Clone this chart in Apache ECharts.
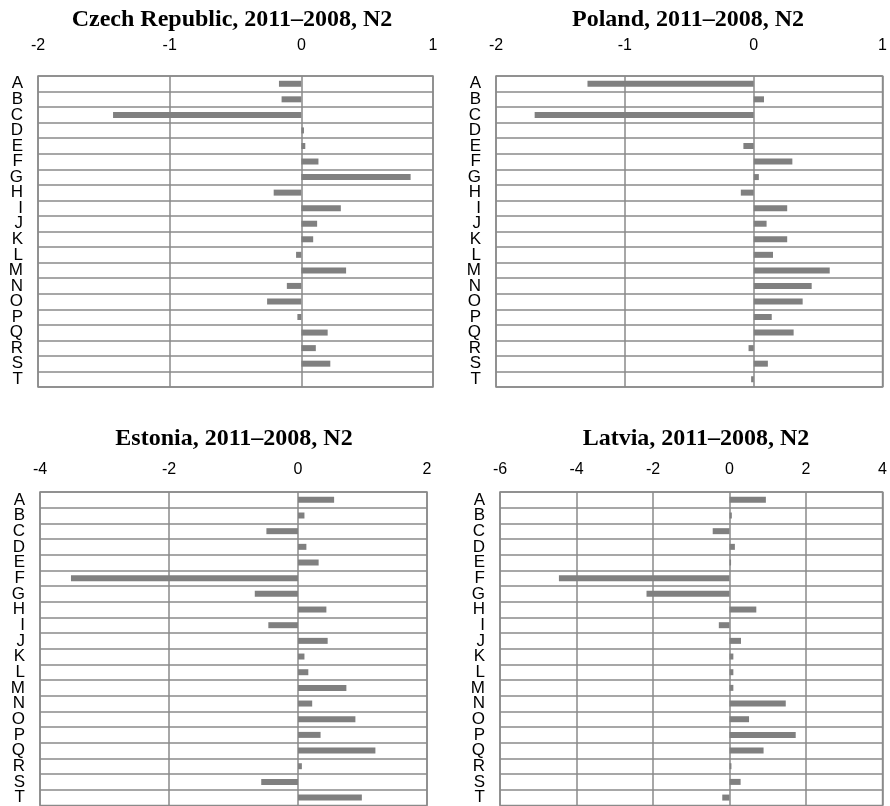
<!DOCTYPE html>
<html>
<head>
<meta charset="utf-8">
<script src="https://cdn.jsdelivr.net/npm/echarts@6/dist/echarts.min.js"></script>
<style>
  html, body { margin: 0; padding: 0; background: #fff; }
  #chart { width: 890px; height: 806px; }
</style>
</head>
<body>
<div id="chart"></div>
<script>
// sectors A..T
var categories = ['A','B','C','D','E','F','G','H','I','J','K','L','M','N','O','P','Q','R','S','T'];

var czech   = [-0.17, -0.15, -1.43, 0.02, 0.03, 0.13, 0.83, -0.21, 0.30, 0.12, 0.09, -0.04, 0.34, -0.11, -0.26, -0.03, 0.20, 0.11, 0.22, 0];
var poland  = [-1.29, 0.08, -1.70, 0, -0.08, 0.30, 0.04, -0.10, 0.26, 0.10, 0.26, 0.15, 0.59, 0.45, 0.38, 0.14, 0.31, -0.04, 0.11, -0.02];
var estonia = [0.56, 0.10, -0.49, 0.13, 0.32, -3.52, -0.67, 0.44, -0.46, 0.46, 0.10, 0.16, 0.75, 0.22, 0.89, 0.35, 1.20, 0.06, -0.57, 0.99];
var latvia  = [0.95, 0.06, -0.44, 0.14, 0.04, -4.46, -2.17, 0.70, -0.28, 0.30, 0.10, 0.10, 0.10, 1.47, 0.51, 1.73, 0.89, 0.05, 0.29, -0.19];

var panels = [
  { title: 'Czech Republic, 2011\u20132008, N2', data: czech,   min: -2, max: 1, step: 1, left: 38,  width: 395, top: 76,  height: 311, tx: 227, ty: 3,   lm: 22 },
  { title: 'Poland, 2011\u20132008, N2',         data: poland,  min: -2, max: 1, step: 1, left: 496, width: 388, top: 76,  height: 311, tx: 683, ty: 3,   lm: 22 },
  { title: 'Estonia, 2011\u20132008, N2',        data: estonia, min: -4, max: 2, step: 2, left: 40,  width: 387, top: 492, height: 316, tx: 229, ty: 422, lm: 14 },
  { title: 'Latvia, 2011\u20132008, N2',         data: latvia,  min: -6, max: 4, step: 2, left: 500, width: 384, top: 492, height: 316, tx: 691, ty: 422, lm: 14 }
];

var lineColor = '#8a8a8a';
var option = { animation: false, title: [], grid: [], xAxis: [], yAxis: [], series: [] };

panels.forEach(function (p, i) {
  option.title.push({
    text: p.title,
    left: p.tx,
    top: p.ty,
    textAlign: 'center',
    textStyle: { fontFamily: 'Liberation Serif', fontWeight: 'bold', fontSize: 24, color: '#000' }
  });
  option.grid.push({
    left: p.left, top: p.top, width: p.width, height: p.height,
    show: true, borderColor: lineColor, borderWidth: 1.5, backgroundColor: 'transparent'
  });
  option.xAxis.push({
    type: 'value', gridIndex: i, position: 'top',
    min: p.min, max: p.max, interval: p.step,
    axisLine: { show: false }, axisTick: { show: false },
    axisLabel: { margin: p.lm, fontFamily: 'Liberation Sans', fontSize: 16, color: '#000' },
    splitLine: { show: true, lineStyle: { color: lineColor, width: 1.5 } }
  });
  option.yAxis.push({
    type: 'category', gridIndex: i, inverse: true, data: categories,
    axisLine: { show: false }, axisTick: { show: false },
    axisLabel: { margin: 15, interval: 0, fontFamily: 'Liberation Sans', fontSize: 17, color: '#000' },
    splitLine: { show: true, interval: 0, lineStyle: { color: lineColor, width: 1.5 } }
  });
  option.series.push({
    type: 'bar', xAxisIndex: i, yAxisIndex: i,
    data: p.data, barWidth: 6,
    itemStyle: { color: '#808080' }
  });
});

var chart = echarts.init(document.getElementById('chart'));
chart.setOption(option);
</script>
</body>
</html>
